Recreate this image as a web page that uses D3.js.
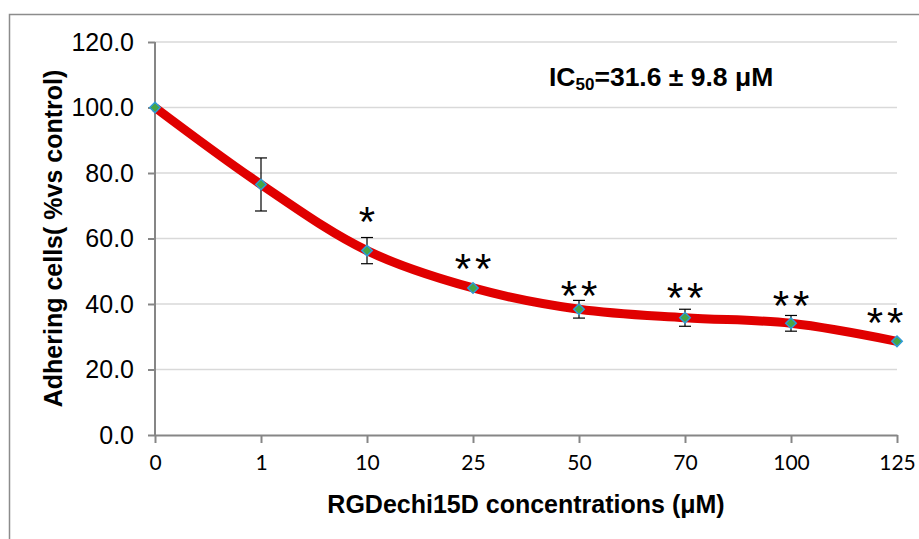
<!DOCTYPE html>
<html>
<head>
<meta charset="utf-8">
<script src="https://cdn.jsdelivr.net/npm/d3@7"></script>
<style>
  body { margin: 0; background: #fff; }
  svg { display: block; }
</style>
</head>
<body>
<div id="chart"></div>
<script>
// data
var concentrations = ['0', '1', '10', '25', '50', '70', '100', '125'];
var adhering = [100.0, 76.5, 56.3, 44.9, 38.4, 35.8, 34.1, 28.6];
var errors = [0, 8.1, 4.0, 0, 2.7, 2.6, 2.4, 0];
var stars = ['', '', '*', '**', '**', '**', '**', '**'];
var starLevel = [0, 0, 66.9, 52.5, 44.3, 43.7, 41.2, 36.0];  // where the stars sit, in % units
var yTicks = [0, 20, 40, 60, 80, 100, 120];

var width = 919, height = 539;
var margin = { left: 155, right: 22, top: 42, bottom: 104 };

var svg = d3.select('#chart')
    .append('svg')
    .attr('width', width)
    .attr('height', height);

// outer chart border
svg.append('rect')
    .attr('x', 9.5).attr('y', 14.5)
    .attr('width', 930).attr('height', 560)
    .attr('fill', 'none')
    .attr('stroke', '#8c8c8c')
    .attr('stroke-width', 1.5);

var x = d3.scalePoint()
    .domain(concentrations)
    .range([margin.left, width - margin.right]);

var y = d3.scaleLinear()
    .domain([0, 120])
    .range([height - margin.bottom, margin.top]);

// gridlines
svg.append('g')
    .selectAll('line')
    .data(yTicks.filter(function (d) { return d > 0; })).enter()
    .append('line')
    .attr('x1', margin.left).attr('x2', width - margin.right)
    .attr('y1', function (d) { return y(d); })
    .attr('y2', function (d) { return y(d); })
    .attr('stroke', '#d9d9d9')
    .attr('stroke-width', 1.5);

// y axis
var yAxis = svg.append('g')
    .attr('transform', 'translate(' + margin.left + ',0)')
    .call(d3.axisLeft(y).tickValues(yTicks).tickSize(7).tickPadding(14)
        .tickFormat(d3.format('.1f')));
yAxis.selectAll('text')
    .style('font-family', 'Liberation Sans, Arial, sans-serif')
    .style('font-size', '25px')
    .attr('fill', '#000');

// x axis
var xAxis = svg.append('g')
    .attr('transform', 'translate(0,' + y(0) + ')')
    .call(d3.axisBottom(x).tickSize(8).tickSizeOuter(0).tickPadding(12));
xAxis.selectAll('text')
    .style('font-family', 'Lato, Carlito, sans-serif')
    .style('font-size', '21px')
    .attr('fill', '#000');

svg.selectAll('.domain, .tick line')
    .attr('stroke', '#868686')
    .attr('stroke-width', 2);
yAxis.select('.domain').attr('d', 'M0,' + y(120) + 'V' + y(0));

// smoothed line
var line = d3.line()
    .x(function (d, i) { return x(concentrations[i]); })
    .y(function (d) { return y(d); })
    .curve(d3.curveCatmullRom.alpha(0.5));

svg.append('path')
    .datum(adhering)
    .attr('d', line)
    .attr('fill', 'none')
    .attr('stroke', '#e00000')
    .attr('stroke-width', 9);

// error bars
var eb = svg.append('g')
    .selectAll('g')
    .data(adhering.map(function (v, i) { return { c: concentrations[i], v: v, e: errors[i] }; })
        .filter(function (d) { return d.e > 0; }))
    .enter().append('g');

eb.append('line')
    .attr('x1', function (d) { return x(d.c); })
    .attr('x2', function (d) { return x(d.c); })
    .attr('y1', function (d) { return y(d.v + d.e); })
    .attr('y2', function (d) { return y(d.v - d.e); });
eb.append('line')
    .attr('x1', function (d) { return x(d.c) - 6; })
    .attr('x2', function (d) { return x(d.c) + 6; })
    .attr('y1', function (d) { return y(d.v + d.e); })
    .attr('y2', function (d) { return y(d.v + d.e); });
eb.append('line')
    .attr('x1', function (d) { return x(d.c) - 6; })
    .attr('x2', function (d) { return x(d.c) + 6; })
    .attr('y1', function (d) { return y(d.v - d.e); })
    .attr('y2', function (d) { return y(d.v - d.e); });
eb.selectAll('line')
    .attr('stroke', '#000')
    .attr('stroke-width', 1.2);

// diamond markers
svg.append('g')
    .selectAll('path')
    .data(adhering).enter()
    .append('path')
    .attr('d', d3.symbol().type(d3.symbolDiamond2).size(70))
    .attr('transform', function (d, i) {
        return 'translate(' + x(concentrations[i]) + ',' + y(d) + ')';
    })
    .attr('fill', '#46a546')
    .attr('stroke', '#2e9bd6')
    .attr('stroke-width', 1.5);

// significance stars
svg.append('g')
    .selectAll('text')
    .data(stars.map(function (s, i) { return { c: concentrations[i], v: starLevel[i], s: s, last: i === stars.length - 1 }; })
        .filter(function (d) { return d.s; }))
    .enter().append('text')
    .attr('x', function (d) { return x(d.c) + (d.last ? -10 : 2); })
    .attr('y', function (d) { return y(d.v) + 20; })
    .attr('text-anchor', 'middle')
    .style('font-family', 'Liberation Sans, Arial, sans-serif')
    .style('font-size', '42px')
    .style('letter-spacing', '4px')
    .text(function (d) { return d.s; });

// IC50 annotation
var ic = svg.append('text')
    .attr('x', 549)
    .attr('y', 86)
    .style('font-family', 'Liberation Sans, Arial, sans-serif')
    .style('font-weight', 'bold')
    .style('font-size', '26.5px');
ic.append('tspan').text('IC');
ic.append('tspan').attr('dy', 4).style('font-size', '17px').text('50');
ic.append('tspan').attr('dy', -4).text('=31.6 ± 9.8 μM');

// axis titles
svg.append('text')
    .attr('x', x('25') + (x('50') - x('25')) / 2)
    .attr('y', 513)
    .attr('text-anchor', 'middle')
    .style('font-family', 'Liberation Sans, Arial, sans-serif')
    .style('font-weight', 'bold')
    .style('font-size', '25px')
    .text('RGDechi15D concentrations (μM)');

svg.append('text')
    .attr('transform', 'translate(62,' + y(60) + ') rotate(-90)')
    .attr('text-anchor', 'middle')
    .style('font-family', 'Liberation Sans, Arial, sans-serif')
    .style('font-weight', 'bold')
    .style('font-size', '25px')
    .text('Adhering cells( %vs control)');
</script>
</body>
</html>
